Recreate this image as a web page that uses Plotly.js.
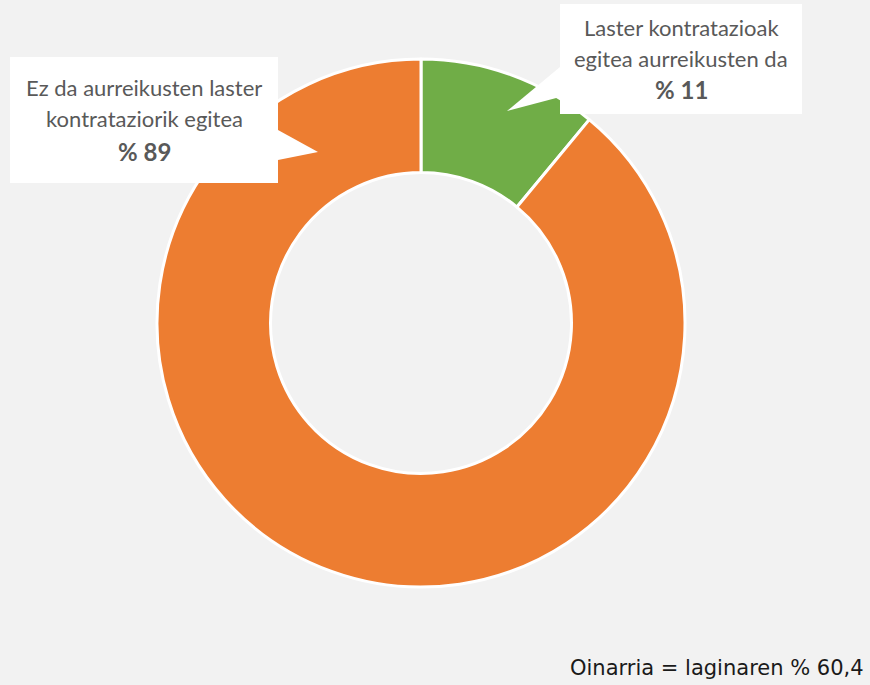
<!DOCTYPE html>
<html>
<head>
<meta charset="utf-8">
<script src="https://cdn.plot.ly/plotly-3.0.1.min.js"></script>
<style>html,body{margin:0;padding:0;background:#F2F2F2;}#chart{width:870px;height:685px;}</style>
</head>
<body>
<div id="chart"></div>
<script>
// Data
var categories = ["Laster kontratazioak egitea aurreikusten da", "Ez da aurreikusten laster kontrataziorik egitea"];
var values = [11, 89];
var colors = ["#70AD47", "#ED7D31"];
var calloutLines = [
  ["Laster kontratazioak", "egitea aurreikusten da", "% 11"],
  ["Ez da aurreikusten laster", "kontrataziorik egitea", "% 89"]
];
var footnote = "Oinarria = laginaren % 60,4";

var W = 870, H = 685;
function px(x){return x / W;}
function py(y){return 1 - y / H;}

var data = [{
  type: "pie",
  labels: categories,
  values: values,
  sort: false,
  direction: "clockwise",
  rotation: 0,
  hole: 0.57,
  textinfo: "none",
  hoverinfo: "label+percent",
  marker: {colors: colors, line: {color: "#FFFFFF", width: 3}},
  domain: {x: [px(157), px(685)], y: [py(587), py(59)]},
  showlegend: false
}];

// callout boxes (pixel geometry)
var boxes = [
  {x0: 560, x1: 802, y0: 4, y1: 114, cx: 681, ly: [28, 58, 89],
   ptr: [[560, 67], [507, 111], [560, 97]]},
  {x0: 10, x1: 278, y0: 57, y1: 183, cx: 144, ly: [88, 119, 151],
   ptr: [[278, 130], [318, 152], [278, 160]]}
];

var shapes = [], annotations = [];
boxes.forEach(function(b, i){
  shapes.push({type: "rect", xref: "paper", yref: "paper",
    x0: px(b.x0), x1: px(b.x1), y0: py(b.y1), y1: py(b.y0),
    fillcolor: "#FFFFFF", line: {width: 0}, layer: "above"});
  var p = b.ptr.map(function(q){return px(q[0]) + "," + py(q[1]);});
  shapes.push({type: "path", xref: "paper", yref: "paper",
    path: "M" + p[0] + " L" + p[1] + " L" + p[2] + " Z",
    fillcolor: "#FFFFFF", line: {width: 0}, layer: "above"});
  calloutLines[i].forEach(function(t, j){
    var bold = (j === 2);
    annotations.push({xref: "paper", yref: "paper", x: px(b.cx), y: py(b.ly[j]),
      xanchor: "center", yanchor: "middle", showarrow: false,
      text: bold ? "<b>" + t + "</b>" : t,
      font: {family: "Lato, 'Open Sans', sans-serif", size: bold ? 24 : 22, color: "#595959"}});
  });
});

annotations.push({xref: "paper", yref: "paper", x: px(866), y: py(668),
  xanchor: "right", yanchor: "middle", showarrow: false, text: footnote,
  font: {family: "'DejaVu Sans', Verdana, sans-serif", size: 21, color: "#1a1a1a"}});

var layout = {
  width: W, height: H,
  margin: {l: 0, r: 0, t: 0, b: 0},
  paper_bgcolor: "#F2F2F2",
  plot_bgcolor: "#F2F2F2",
  shapes: shapes,
  annotations: annotations
};

Plotly.newPlot("chart", data, layout, {displayModeBar: false, staticPlot: true});
</script>
</body>
</html>
